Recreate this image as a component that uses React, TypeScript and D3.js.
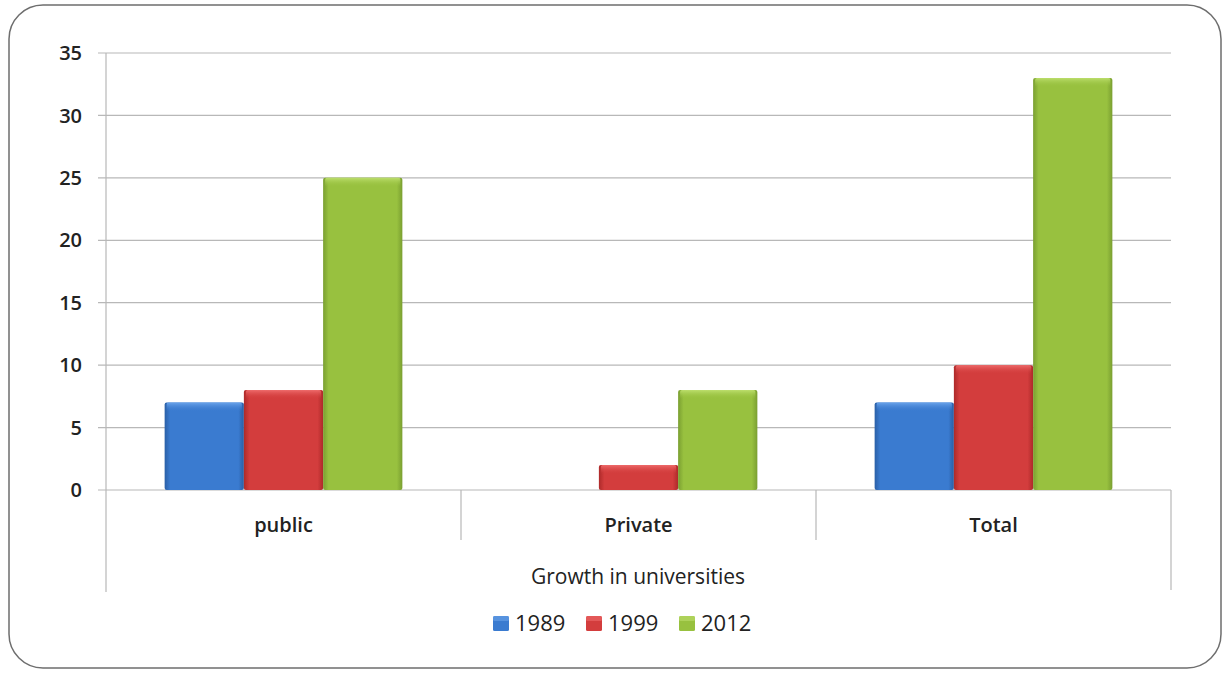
import React from "react";
import * as d3 from "d3";

const categories = ["public", "Private", "Total"];
const seriesNames = ["1989", "1999", "2012"];
const values1989 = [7, 0, 7];
const values1999 = [8, 2, 10];
const values2012 = [25, 8, 33];
const yTicks = [0, 5, 10, 15, 20, 25, 30, 35];
const axisTitle = "Growth in universities";

const seriesValues = [values1989, values1999, values2012];
const colors = [
  { base: "#3a7bd0", light: "#6aa3ea", dark: "#2a5fa6" },
  { base: "#d33d3d", light: "#ee6b6b", dark: "#ad2a2a" },
  { base: "#98c13f", light: "#bcde6c", dark: "#7a9f31" },
];

export default function App() {
  const W = 1226, H = 673;
  const left = 106, right = 1171, top = 53, bottom = 490;
  const font = "'Open Sans', 'Liberation Sans', sans-serif";

  const x = d3.scaleBand<string>().domain(categories).range([left, right]);
  const inner = d3
    .scaleBand<string>()
    .domain(seriesNames)
    .range([0, x.bandwidth()])
    .paddingOuter(0.74)
    .paddingInner(0);
  const y = d3.scaleLinear().domain([0, 35]).range([bottom, top]);

  return (
    <svg width={W} height={H} style={{ position: "absolute", left: 0, top: 0 }}>
      <defs>
        {colors.map((c, i) => (
          <linearGradient key={"h" + i} id={"gh" + i} x1="0" x2="1" y1="0" y2="0">
            <stop offset="0" stopColor={c.dark} />
            <stop offset="0.07" stopColor={c.base} />
            <stop offset="0.5" stopColor={c.base} />
            <stop offset="0.93" stopColor={c.base} />
            <stop offset="1" stopColor={c.dark} />
          </linearGradient>
        ))}
        {colors.map((c, i) => (
          <linearGradient key={"v" + i} id={"gv" + i} x1="0" x2="0" y1="0" y2="1">
            <stop offset="0" stopColor={c.light} stopOpacity="1" />
            <stop offset="1" stopColor={c.base} stopOpacity="0" />
          </linearGradient>
        ))}
      </defs>
      <rect x={9} y={5} width={1212} height={663} rx={34} ry={34} fill="#fff" stroke="#6e6e6e" strokeWidth={1.5} />

      {/* gridlines and ticks */}
      {yTicks.map((t) => (
        <g key={t}>
          <line x1={98} x2={right} y1={y(t)} y2={y(t)} stroke="#b8b8b8" strokeWidth={1.2} />
          <text
            x={82}
            y={y(t)}
            dy="0.36em"
            textAnchor="end"
            fontFamily={font}
            fontWeight={600}
            fontSize={20}
            fill="#222"
          >
            {t}
          </text>
        </g>
      ))}

      {/* axis lines */}
      <line x1={left} x2={left} y1={top} y2={592} stroke="#b8b8b8" strokeWidth={1.2} />
      <line x1={right} x2={right} y1={bottom} y2={590} stroke="#b8b8b8" strokeWidth={1.2} />
      {categories.slice(1).map((c) => (
        <line key={c} x1={x(c)!} x2={x(c)!} y1={bottom} y2={540} stroke="#b8b8b8" strokeWidth={1.2} />
      ))}

      {/* bars */}
      {categories.map((c, ci) =>
        seriesNames.map((s, si) => {
          const v = seriesValues[si][ci];
          if (v <= 0) return null;
          const bx = x(c)! + inner(s)!;
          const bw = inner.bandwidth();
          const by = y(v);
          const bh = bottom - by;
          return (
            <g key={c + s}>
              <rect x={bx} y={by} width={bw} height={bh} fill={`url(#gh${si})`} rx={2} />
              <rect x={bx + 2} y={by} width={bw - 4} height={Math.min(9, bh)} fill={`url(#gv${si})`} rx={2} />
            </g>
          );
        })
      )}

      {/* category labels */}
      {categories.map((c) => (
        <text
          key={c}
          x={x(c)! + x.bandwidth() / 2}
          y={532}
          textAnchor="middle"
          fontFamily={font}
          fontWeight={600}
          fontSize={20}
          fill="#222"
        >
          {c}
        </text>
      ))}

      <text x={638} y={584} textAnchor="middle" fontFamily={font} fontSize={21} fill="#222">
        {axisTitle}
      </text>

      {/* legend */}
      {seriesNames.map((s, i) => {
        const lx = [493, 586, 679][i];
        return (
          <g key={s}>
            <rect x={lx} y={616} width={16} height={15} fill={colors[i].base} rx={1.5} />
            <rect x={lx} y={616} width={16} height={5} fill={colors[i].light} opacity={0.6} rx={1.5} />
            <text x={lx + 22} y={631} fontFamily={font} fontSize={22} fill="#222">
              {s}
            </text>
          </g>
        );
      })}
    </svg>
  );
}
